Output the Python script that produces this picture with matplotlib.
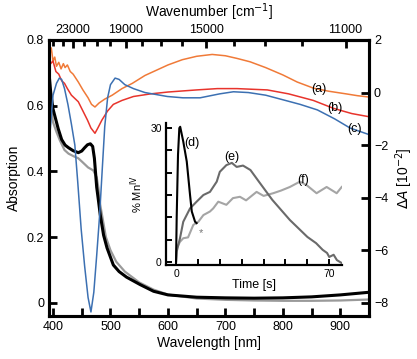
import matplotlib
matplotlib.use("Agg")
import matplotlib.pyplot as plt
from matplotlib.ticker import FixedLocator, MultipleLocator, NullFormatter
import numpy as np

plt.rcParams['font.family'] = ['Liberation Sans', 'DejaVu Sans']

# absorption spectra (left axis)
wl_black = [393, 396, 400, 403, 409, 415, 421, 427, 435, 444, 450, 455, 460, 465, 469, 472,
            476, 479, 482, 488, 494, 505, 515, 528, 552, 575, 600, 650, 700, 750, 800, 850, 900, 950]
abs_black = [0.70, 0.64, 0.59, 0.57, 0.53, 0.497, 0.48, 0.472, 0.463, 0.457, 0.462, 0.472, 0.481,
             0.484, 0.476, 0.44, 0.352, 0.312, 0.27, 0.206, 0.167, 0.115, 0.095, 0.078, 0.055, 0.035,
             0.024, 0.017, 0.015, 0.014, 0.015, 0.018, 0.024, 0.032]
wl_gray = [393, 396, 400, 406, 412, 420, 427, 436, 444, 452, 461, 470, 476, 479, 482, 487, 492,
           500, 510, 525, 550, 575, 600, 650, 700, 750, 800, 850, 900, 950]
abs_gray = [0.68, 0.60, 0.55, 0.52, 0.494, 0.465, 0.454, 0.446, 0.44, 0.427, 0.412, 0.403, 0.382,
            0.35, 0.30, 0.25, 0.20, 0.16, 0.125, 0.095, 0.062, 0.04, 0.025, 0.013, 0.009, 0.007,
            0.006, 0.006, 0.007, 0.010]

# difference spectra (right axis, 10^-2)
wl_a = [393, 395, 397, 400, 403, 406, 410, 414, 418, 421, 425, 430, 435, 444, 452, 461, 467, 473,
        480, 490, 503, 520, 538, 560, 580, 600, 625, 650, 677, 700, 720, 743, 770, 800, 825, 853,
        880, 910, 930, 950]
dA_a = [2.0, 1.5, 1.7, 1.2, 1.35, 1.0, 1.15, 0.9, 1.1, 0.95, 1.05, 0.8, 0.7, 0.4, 0.1, -0.2,
        -0.45, -0.55, -0.4, -0.25, -0.1, 0.15, 0.35, 0.65, 0.85, 1.05, 1.25, 1.38, 1.45, 1.4, 1.3,
        1.17, 0.95, 0.67, 0.4, 0.17, 0.05, -0.05, -0.12, -0.17]
wl_b = [393, 396, 400, 405, 410, 415, 420, 425, 432, 444, 452, 460, 466, 473, 478, 485, 495, 505,
        520, 540, 570, 600, 650, 686, 720, 773, 810, 853, 888, 920, 950]
dA_b = [1.5, 1.1, 1.2, 0.8, 0.7, 0.45, 0.35, 0.15, -0.1, -0.35, -0.7, -1.05, -1.35, -1.55, -1.35,
        -1.05, -0.7, -0.45, -0.3, -0.15, -0.05, 0.02, 0.1, 0.15, 0.15, 0.1, -0.05, -0.3, -0.6,
        -0.8, -0.92]
wl_c = [393, 396, 400, 406, 411, 415, 420, 426, 432, 438, 443, 449, 455, 461, 466, 471, 476, 481,
        486, 490, 495, 500, 508, 515, 525, 540, 560, 599, 626, 656, 690, 714, 740, 770, 801, 830,
        860, 890, 917, 950]
dA_c = [-2.0, -1.2, -0.1, 0.35, 0.55, 0.5, 0.15, -0.46, -1.2, -2.0, -3.4, -5.2, -6.6, -7.8, -8.35,
        -7.6, -6.2, -4.7, -2.8, -1.3, -0.2, 0.3, 0.55, 0.5, 0.3, 0.15, 0.0, -0.15, -0.2, -0.2, -0.05,
        0.03, 0.0, -0.1, -0.28, -0.45, -0.66, -1.0, -1.35, -1.6]

# inset kinetics
t_d = [0, 0.3, 0.9, 1.5, 1.9, 3.3, 4.9, 6.4, 7.2, 8.7, 9.4]
mn_d = [0, 10, 24, 30, 30.3, 27.0, 22.5, 15, 11.3, 9.0, 8.7]
t_e = [0, 0.3, 1.8, 3.3, 6.4, 9.4, 12.5, 15.5, 18.6, 20, 23, 25.5, 27.7, 30.6, 34, 38, 44, 52, 60,
       64, 67, 69, 70, 72, 73.5, 75.5]
mn_e = [0, 2.3, 5.3, 9.0, 12.0, 13.5, 15.0, 15.7, 18.0, 20.2, 21.7, 22.2, 21.3, 21.6, 20.6, 17.9,
        13.9, 9.4, 5.6, 4.2, 2.7, 2.0, 1.1, 1.6, 0.4, -0.2]
t_f = [0, 0.3, 1.8, 3.3, 5.5, 7.9, 10.2, 12.5, 15.5, 17, 19.3, 23, 26, 29.2, 32, 36.8, 40, 44.4,
       48, 52, 56.6, 59.7, 64.2, 68.8, 73.4, 75.7]
mn_f = [0, 3.1, 4.5, 5.3, 5.5, 8.3, 9.0, 10.5, 11.3, 12.0, 13.5, 12.8, 14.3, 14.6, 13.8, 15.7,
        14.8, 15.4, 16.0, 16.8, 18.0, 17.2, 15.4, 16.8, 15.4, 16.8]

wn_major = [23000, 19000, 15000, 11000]
wn_minor = list(range(25000, 10999, -1000))

fig = plt.figure(figsize=(4.17, 3.59), dpi=100)
ax = fig.add_axes([0.1175, 0.12, 0.7675, 0.7686])

ax.plot(wl_gray, abs_gray, color='#9a9a9a', lw=1.6)
ax.plot(wl_black, abs_black, color='black', lw=2.2)
ax.set_xlim(393, 950)
ax.set_ylim(-0.04, 0.8)
ax.set_xticks([400, 500, 600, 700, 800, 900])
ax.xaxis.set_minor_locator(MultipleLocator(50))
ax.set_yticks([0, 0.2, 0.4, 0.6, 0.8])
ax.set_yticklabels(['0', '0.2', '0.4', '0.6', '0.8'])
ax.set_xlabel('Wavelength [nm]', fontsize=10, labelpad=2)
ax.set_ylabel('Absorption', fontsize=10, labelpad=4)

ax2 = ax.twinx()
ax2.plot(wl_a, dA_a, color='#f07a38', lw=1.1)
ax2.plot(wl_b, dA_b, color='#e8342c', lw=1.1)
ax2.plot(wl_c, dA_c, color='#3c70b2', lw=1.1)
ax2.set_ylim(-8.5, 2)
ax2.set_yticks([2, 0, -2, -4, -6, -8])
ax2.set_ylabel(r'$\Delta A$ [10$^{-2}$]', fontsize=10, labelpad=4)

ax2.text(862, 0.12, '(a)', fontsize=9, ha='center', va='center')
ax2.text(891, -0.6, '(b)', fontsize=9, ha='center', va='center')
ax2.text(924, -1.4, '(c)', fontsize=9, ha='center', va='center')

secax = ax.secondary_xaxis('top', functions=(lambda x: 1e7 / np.asarray(x, dtype=float),
                                             lambda x: 1e7 / np.asarray(x, dtype=float)))
secax.xaxis.set_major_locator(FixedLocator(wn_major))
secax.xaxis.set_minor_locator(FixedLocator(wn_minor))
secax.xaxis.set_minor_formatter(NullFormatter())
secax.set_xticklabels([str(w) for w in wn_major])
secax.set_xlabel(r'Wavenumber [cm$^{-1}$]', fontsize=10, labelpad=5)
secax.tick_params(which='major', direction='in', length=6, width=2, labelsize=9, pad=3)
secax.tick_params(which='minor', direction='in', length=4, width=2)
secax.spines['top'].set_linewidth(2.2)

for a in (ax, ax2):
    for s in a.spines.values():
        s.set_linewidth(2.2)
ax.tick_params(which='both', direction='in', length=6, width=2, labelsize=9, top=False)
ax2.tick_params(which='both', direction='in', length=6, width=2, labelsize=9)

# inset
axin = fig.add_axes([0.398, 0.2618, 0.422, 0.395])
axin.patch.set_alpha(0)
axin.plot(t_f, mn_f, color='#a5a5a5', lw=1.5)
axin.plot(t_e, mn_e, color='#6a6a6a', lw=1.5)
axin.plot(t_d, mn_d, color='black', lw=1.5)
axin.set_xlim(-4.6, 75.8)
axin.set_ylim(-0.7, 31.1)
axin.spines['top'].set_visible(False)
axin.spines['right'].set_visible(False)
axin.spines['left'].set_linewidth(1.6)
axin.spines['bottom'].set_linewidth(1.6)
axin.xaxis.set_major_locator(MultipleLocator(10))
axin.yaxis.set_major_locator(MultipleLocator(5))
axin.set_xticklabels(['0' if abs(v) < 1e-6 else ('70' if abs(v - 70) < 1e-6 else '')
                      for v in axin.get_xticks()])
axin.set_yticklabels(['0' if abs(v) < 1e-6 else ('30' if abs(v - 30) < 1e-6 else '')
                      for v in axin.get_yticks()])
axin.tick_params(direction='in', length=4, width=1.4, labelsize=7.5, pad=3)
axin.set_xlabel('Time [s]', fontsize=9, labelpad=0)
axin.set_ylabel(r'% Mn$^{\rm IV}$', fontsize=8, labelpad=4)
axin.text(7.2, 26.6, '(d)', fontsize=9, ha='center', va='center')
axin.text(25.4, 23.6, '(e)', fontsize=9, ha='center', va='center')
axin.text(58, 18.3, '(f)', fontsize=9, ha='center', va='center')
axin.text(11.4, 6.4, '*', fontsize=8, ha='center', va='center', color='#777777')

fig.savefig('out.png', dpi=100)
